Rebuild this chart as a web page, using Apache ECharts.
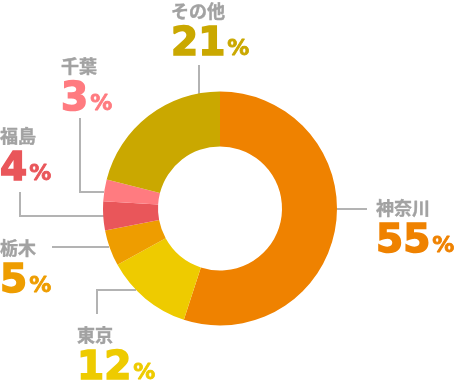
<!DOCTYPE html>
<html>
<head>
<meta charset="utf-8">
<script src="https://cdn.jsdelivr.net/npm/echarts@6/dist/echarts.min.js"></script>
<style>
html,body{margin:0;padding:0;background:#fff;}
#c{width:459px;height:380px;}
</style>
</head>
<body>
<div id="c"></div>
<script>
// Data
const categories = ['神奈川', '東京', '栃木', '福島', '千葉', 'その他'];
const values = [55, 12, 5, 4, 3, 21];
const colors = ['#EF8200', '#EECB00', '#EE9D00', '#E9565A', '#FF7B80', '#CAA800'];

// Label placement (layout only)
const labelPos = [
  {x: 376, y: 195, line: [[336, 209], [367, 209]]},
  {x: 77, y: 322, line: [[136, 290], [97, 290], [97, 314]]},
  {x: 0, y: 235, line: [[109, 247], [52, 247]]},
  {x: 0, y: 123, line: [[104, 216], [20, 216], [20, 192]]},
  {x: 61, y: 53, line: [[104, 192], [80, 192], [80, 118]]},
  {x: 171, y: -2, line: [[199, 94], [199, 65]]}
];

const rich = {
  n: {fontSize: 18, lineHeight: 26, fontWeight: 'bold', color: '#A2A2A2', fontFamily: '"Noto Sans CJK JP", sans-serif',
      textBorderColor: '#A2A2A2', textBorderWidth: 0.4}
};
colors.forEach((c, i) => {
  rich['v' + i] = {fontSize: 39, lineHeight: 40, fontWeight: 'bold', color: c, fontFamily: '"DejaVu Sans", sans-serif',
    verticalAlign: 'bottom', textBorderColor: c, textBorderWidth: 1.6};
  rich['p' + i] = {fontSize: 22, lineHeight: 40, fontWeight: 'bold', color: c, fontFamily: '"DejaVu Sans", sans-serif',
    verticalAlign: 'bottom', padding: [0, 0, 4, 2], textBorderColor: c, textBorderWidth: 0.8};
});

const chart = echarts.init(document.getElementById('c'), null, {renderer: 'canvas'});
chart.setOption({
  animation: false,
  series: [{
    type: 'pie',
    center: [220, 208.5],
    radius: [62, 117],
    startAngle: 90,
    clockwise: true,
    avoidLabelOverlap: false,
    data: categories.map((name, i) => ({name, value: values[i], itemStyle: {color: colors[i]}})),
    label: {
      show: true,
      position: 'outside',
      formatter: p => `{n|${p.name}}\n{v${p.dataIndex}|${p.value}}{p${p.dataIndex}|%}`,
      rich: rich
    },
    labelLine: {show: true, lineStyle: {color: '#B3B3B3', width: 2}},
    labelLayout: params => {
      const L = labelPos[params.dataIndex];
      return {x: L.x, y: L.y, align: 'left', verticalAlign: 'top', labelLinePoints: L.line};
    },
    emphasis: {disabled: true}
  }]
});
</script>
</body>
</html>
